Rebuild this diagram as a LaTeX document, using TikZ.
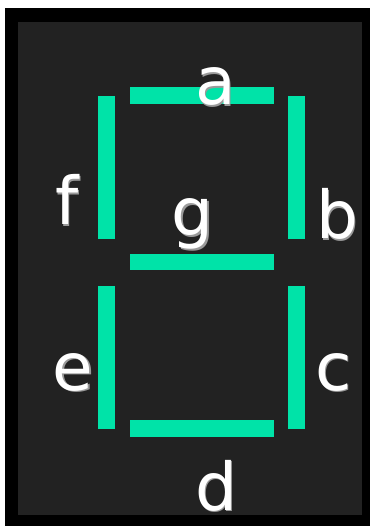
\documentclass[tikz,border=0pt]{standalone}
\usepackage{fontspec}
\setmainfont{DejaVu Sans}
\definecolor{segcol}{HTML}{00E3A8}
\definecolor{bgcol}{HTML}{222222}
\definecolor{shadowcol}{HTML}{9A9A9A}
\tikzset{
  seg/.style={fill=segcol, draw=none},
  lbl/.style={anchor=base, inner sep=0pt, text=white, font=\fontsize{66}{66}\selectfont},
}
\newcommand{\shadowtext}[1]{\rlap{\kern1.6pt\raisebox{-1.6pt}{\color{shadowcol}#1}}#1}
\newcommand{\seglabel}[3]{%
  \node[lbl] (lab#3) at (#1,#2) {\shadowtext{#3}};
}
\begin{document}
\begin{tikzpicture}[x=1pt,y=-1pt]
\useasboundingbox[fill=white] (0,0) rectangle (370,526);
\fill[black] (5,8) rectangle (370,526);
\fill[bgcol] (18,22) rectangle (362,515);
% segments
\fill[seg] (130,87) rectangle (274,104);   % a
\fill[seg] (288,96) rectangle (305,239);   % b
\fill[seg] (288,286) rectangle (305,429);  % c
\fill[seg] (130,420) rectangle (274,437);  % d
\fill[seg] (98,286) rectangle (115,429);   % e
\fill[seg] (98,96) rectangle (115,239);    % f
\fill[seg] (130,254) rectangle (274,270);  % g
% labels
\seglabel{215.5}{104.5}{a}
\seglabel{337}{238.5}{b}
\seglabel{333.5}{390}{c}
\seglabel{216}{510}{d}
\seglabel{73}{390}{e}
\seglabel{67}{225}{f}
\seglabel{192.5}{236}{g}
\end{tikzpicture}
\end{document}
